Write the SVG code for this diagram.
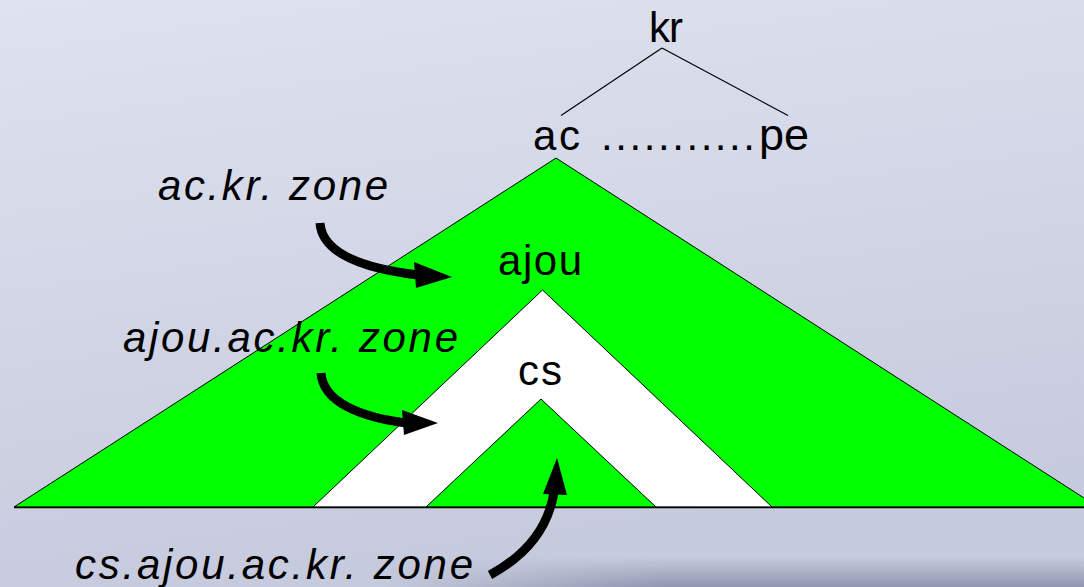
<svg xmlns="http://www.w3.org/2000/svg" width="1084" height="587" viewBox="0 0 1084 587">
  <defs>
    <linearGradient id="bg" x1="0" y1="0" x2="0.25" y2="1">
      <stop offset="0" stop-color="#dfe3ef"/>
      <stop offset="0.5" stop-color="#d2d6e6"/>
      <stop offset="1" stop-color="#c6cadd"/>
    </linearGradient>
    <linearGradient id="shadeV" x1="0" y1="0" x2="0" y2="1">
      <stop offset="0" stop-color="#8a91ab" stop-opacity="0"/>
      <stop offset="1" stop-color="#8a91ab" stop-opacity="0.9"/>
    </linearGradient>
    <linearGradient id="shadeH" x1="0" y1="0" x2="1" y2="0">
      <stop offset="0" stop-color="#fff" stop-opacity="0"/>
      <stop offset="0.4" stop-color="#fff" stop-opacity="1"/>
      <stop offset="1" stop-color="#fff" stop-opacity="1"/>
    </linearGradient>
    <mask id="shadeMask">
      <rect x="380" y="558" width="704" height="29" fill="url(#shadeH)"/>
    </mask>
    <style>
      .lbl { font-family: "Liberation Sans", Arial, sans-serif; font-size: 42px; fill: #000; }
      .zone { font-family: "Liberation Sans", Arial, sans-serif; font-size: 42px; font-style: italic; fill: #000; }
      .edge { stroke: #000; stroke-width: 1.2; fill: none; }
      .tri { stroke: #000; stroke-width: 1; }
      .arrow { stroke: #000; stroke-width: 9; fill: none; }
      .head { fill: #000; }
    </style>
  </defs>

  <!-- backdrop -->
  <rect width="1084" height="587" fill="url(#bg)"/>
  <rect x="380" y="558" width="704" height="29" fill="url(#shadeV)" mask="url(#shadeMask)"/>

  <!-- zone triangles -->
  <g id="zone-ac">
    <polygon class="tri" points="556,158 14,507 1098,507" fill="#00ff00"/>
  </g>
  <g id="zone-ajou">
    <polygon class="tri" points="542.5,290 313,507 772,507" fill="#ffffff"/>
  </g>
  <g id="zone-cs">
    <polygon class="tri" points="541,399 426,507 656,507" fill="#00ff00"/>
  </g>
  <line x1="14" y1="507.5" x2="1084" y2="507.5" stroke="#000" stroke-width="1.5"/>

  <!-- domain tree -->
  <g id="node-kr">
    <text class="lbl" x="649" y="42" textLength="34" lengthAdjust="spacing">kr</text>
  </g>
  <g id="node-ac-pe">
    <text class="lbl" y="150"><tspan x="533" textLength="47" lengthAdjust="spacing">ac</tspan> <tspan x="601" textLength="154" lengthAdjust="spacing">...........</tspan><tspan x="759" font-size="45">pe</tspan></text>
  </g>
  <g id="node-ajou">
    <text class="lbl" x="498" y="275" textLength="84" lengthAdjust="spacing">ajou</text>
  </g>
  <g id="node-cs">
    <text class="lbl" x="518" y="385" textLength="44" lengthAdjust="spacing">cs</text>
  </g>

  <!-- zone labels -->
  <g id="label-ac-zone">
    <text class="zone" x="158" y="200" textLength="230" lengthAdjust="spacing">ac.kr. zone</text>
  </g>
  <g id="label-ajou-zone">
    <text class="zone" x="123" y="352" textLength="335" lengthAdjust="spacing">ajou.ac.kr. zone</text>
  </g>
  <g id="label-cs-zone">
    <text class="zone" x="75" y="579" textLength="398" lengthAdjust="spacing">cs.ajou.ac.kr. zone</text>
  </g>

  <!-- connectors -->
  <g id="connectors">
    <line class="edge" x1="662" y1="48" x2="561" y2="115.5"/>
    <line class="edge" x1="662" y1="48" x2="788" y2="115.5"/>

    <path class="arrow" d="M320,223 C322,252 360,268 418,275"/>
    <polygon class="head" points="414,262 452,277 416,288"/>

    <path class="arrow" d="M321,373 C323,402 360,417 406,423"/>
    <polygon class="head" points="402,410 438,423 404,435"/>

    <path class="arrow" d="M490,575 C525,556 548,530 554,492"/>
    <polygon class="head" points="543,494 557,458 567,495"/>
  </g>
</svg>
